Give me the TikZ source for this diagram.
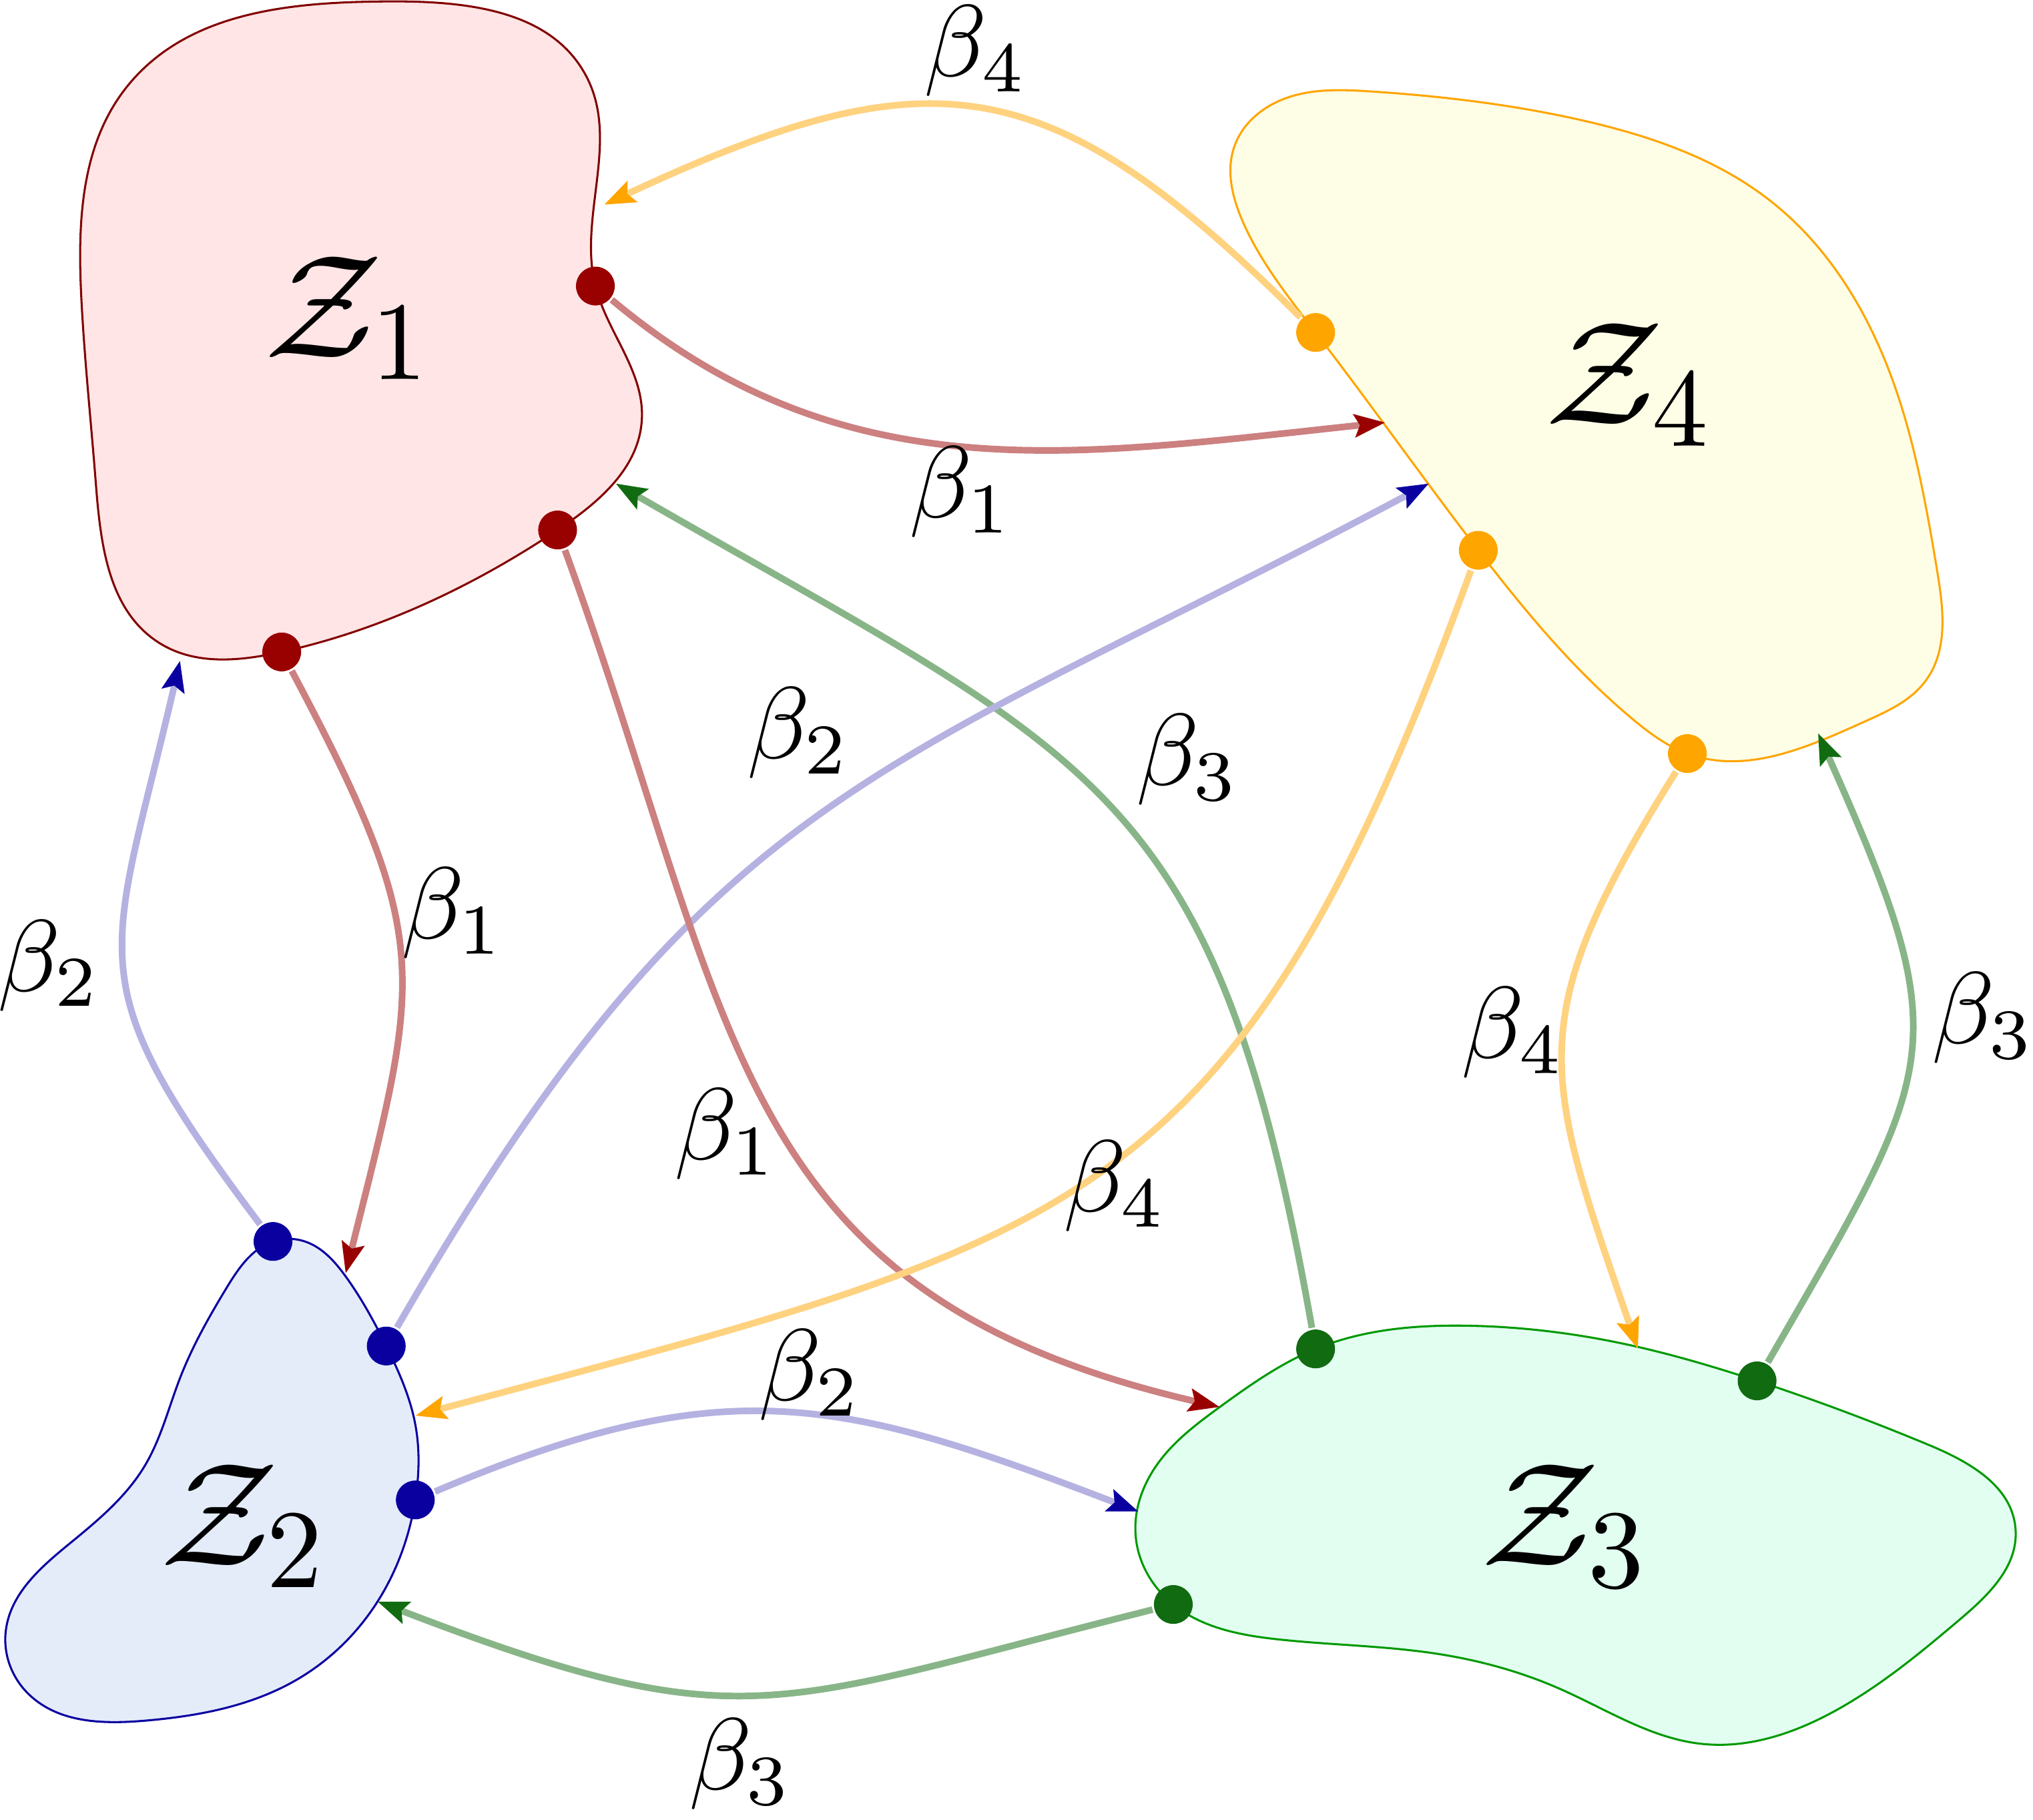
\documentclass[tikz,border=0pt]{standalone}
\usetikzlibrary{arrows.meta,hobby}

\definecolor{zred}{HTML}{990000}
\definecolor{zblue}{HTML}{0A00A0}
\definecolor{zgreen}{HTML}{116B11}
\definecolor{zorange}{HTML}{FFA500}

\begin{document}
\begin{tikzpicture}[
        zdot/.style={circle, fill=#1, inner sep=0pt, minimum size=3.8pt},
        region/.style={line width=0.2pt, use Hobby shortcut, closed=true},
        zlabel/.style={font=\fontsize{15.5}{18}\selectfont},
        beta1/.style={line width=0.65pt, draw=zred!50, -{Stealth[length=3pt, width=2.2pt, inset=0.5pt, zred]}},
        beta2/.style={line width=0.65pt, draw=zblue!30, -{Stealth[length=3pt, width=2.2pt, inset=0.5pt, zblue]}},
        beta3/.style={line width=0.65pt, draw=zgreen!50, -{Stealth[length=3pt, width=2.2pt, inset=0.5pt, zgreen]}},
        beta4/.style={line width=0.65pt, draw=zorange!50, -{Stealth[length=3pt, width=2.2pt, inset=0.5pt, zorange]}}
    ]

        \useasboundingbox (0,0) rectangle (7,6.265);

        % regions
        \draw[region, draw=zred!85!black, fill=red!10]
            (0.28,5.24) .. (0.44,5.97) .. (1.35,6.26) .. (2.02,6.00) .. (2.05,5.28) .. (2.21,4.82)
            .. (1.92,4.44) .. (0.97,4.02) .. (0.55,4.05) .. (0.33,4.60);
        \draw[region, draw=zblue, fill={rgb,255:red,228;green,236;blue,250}]
            (0.94,1.99) .. (1.05,1.99) .. (1.19,1.87) .. (1.33,1.63) .. (1.43,1.36) .. (1.43,1.10)
            .. (1.30,0.75) .. (1.02,0.48) .. (0.50,0.34) .. (0.10,0.43) .. (0.02,0.65) .. (0.24,0.95)
            .. (0.50,1.22) .. (0.62,1.52) .. (0.78,1.83);
        \draw[region, draw=green!60!black, fill={rgb,255:red,225;green,254;blue,240}]
            (4.53,1.62) .. (5.05,1.70) .. (5.58,1.64) .. (6.05,1.51) .. (6.64,1.29) .. (6.94,1.00)
            .. (6.75,0.69) .. (6.33,0.38) .. (5.86,0.26) .. (5.37,0.45) .. (4.95,0.57) .. (4.40,0.62)
            .. (4.04,0.74) .. (3.91,0.98) .. (3.99,1.23) .. (4.20,1.42);
        \draw[region, draw=zorange, fill={rgb,255:red,254;green,254;blue,230}]
            (4.41,5.92) .. (4.72,5.95) .. (5.45,5.85) .. (6.10,5.57) .. (6.50,5.00) .. (6.67,4.30)
            .. (6.63,3.92) .. (6.42,3.78) .. (5.81,3.67) .. (5.62,3.79) .. (5.09,4.37) .. (4.53,5.12)
            .. (4.28,5.50) .. (4.25,5.76);

        \node[zlabel] (z1) at (1.20,5.17) {$\mathcal{Z}_1$};
        \node[zlabel] (z2) at (0.84,1.01) {$\mathcal{Z}_2$};
        \node[zlabel] (z3) at (5.39,1.01) {$\mathcal{Z}_3$};
        \node[zlabel] (z4) at (5.61,4.94) {$\mathcal{Z}_4$};

        % exit points
        \node[zdot=zred] (d11) at (2.05,5.28) {};
        \node[zdot=zred] (d12) at (1.92,4.44) {};
        \node[zdot=zred] (d13) at (0.97,4.02) {};
        \node[zdot=zblue] (d21) at (0.94,1.99) {};
        \node[zdot=zblue] (d22) at (1.33,1.63) {};
        \node[zdot=zblue] (d23) at (1.43,1.10) {};
        \node[zdot=zgreen] (d31) at (4.53,1.62) {};
        \node[zdot=zgreen] (d32) at (6.05,1.51) {};
        \node[zdot=zgreen] (d33) at (4.04,0.74) {};
        \node[zdot=zorange] (d41) at (4.53,5.12) {};
        \node[zdot=zorange] (d42) at (5.09,4.37) {};
        \node[zdot=zorange] (d43) at (5.81,3.67) {};

        % entry points
        \coordinate (t14) at (2.08,5.56);
        \coordinate (t31) at (2.12,4.60);
        \coordinate (t21) at (0.62,3.99);
        \coordinate (t12) at (1.19,1.88);
        \coordinate (t42) at (1.43,1.39);
        \coordinate (t32) at (1.30,0.75);
        \coordinate (t23) at (3.92,1.06);
        \coordinate (t13) at (4.20,1.42);
        \coordinate (t43) at (5.64,1.62);
        \coordinate (t41) at (4.77,4.81);
        \coordinate (t24) at (4.92,4.60);
        \coordinate (t34) at (6.26,3.74);

        \draw[beta4] (d41) to[out=135, in=25, looseness=1.3] (t14);
        \draw[beta1] (d11) to[out=-40, in=186] (t41);
        \draw[beta3] (d31) to[out=100, in=-30, looseness=1.3] (t31);
        \draw[beta2] (d22) to[out=60, in=208, looseness=1.2] (t24);
        \draw[beta1] (d12) to[out=-70, in=167, looseness=1.2] (t13);
        \draw[beta4] (d42) to[out=-110, in=15, looseness=1.3] (t42);
        \draw[beta2] (d21) to[out=127, in=-103, looseness=1.4] (t21);
        \draw[beta1] (d13) to[out=-62, in=76, looseness=1.3] (t12);
        \draw[beta2] (d23) to[out=23, in=159, looseness=1.15] (t23);
        \draw[beta3] (d33) to[out=194, in=-21, looseness=1.3] (t32);
        \draw[beta4] (d43) to[out=-122, in=109, looseness=1.3] (t43);
        \draw[beta3] (d32) to[out=60, in=-66, looseness=1.4] (t34);

        \node (l41) at (3.36,6.09) {$\beta_4$};
        \node (l14) at (3.31,4.57) {$\beta_1$};
        \node (l24) at (2.75,3.74) {$\beta_2$};
        \node (l31) at (4.09,3.65) {$\beta_3$};
        \node (l13) at (2.50,2.36) {$\beta_1$};
        \node (l42) at (3.84,2.18) {$\beta_4$};
        \node (l21) at (0.17,2.94) {$\beta_2$};
        \node (l12) at (1.56,3.12) {$\beta_1$};
        \node (l23) at (2.79,1.53) {$\beta_2$};
        \node (l32) at (2.55,0.19) {$\beta_3$};
        \node (l43) at (5.21,2.71) {$\beta_4$};
        \node (l34) at (6.83,2.76) {$\beta_3$};
    \end{tikzpicture}
\end{document}
